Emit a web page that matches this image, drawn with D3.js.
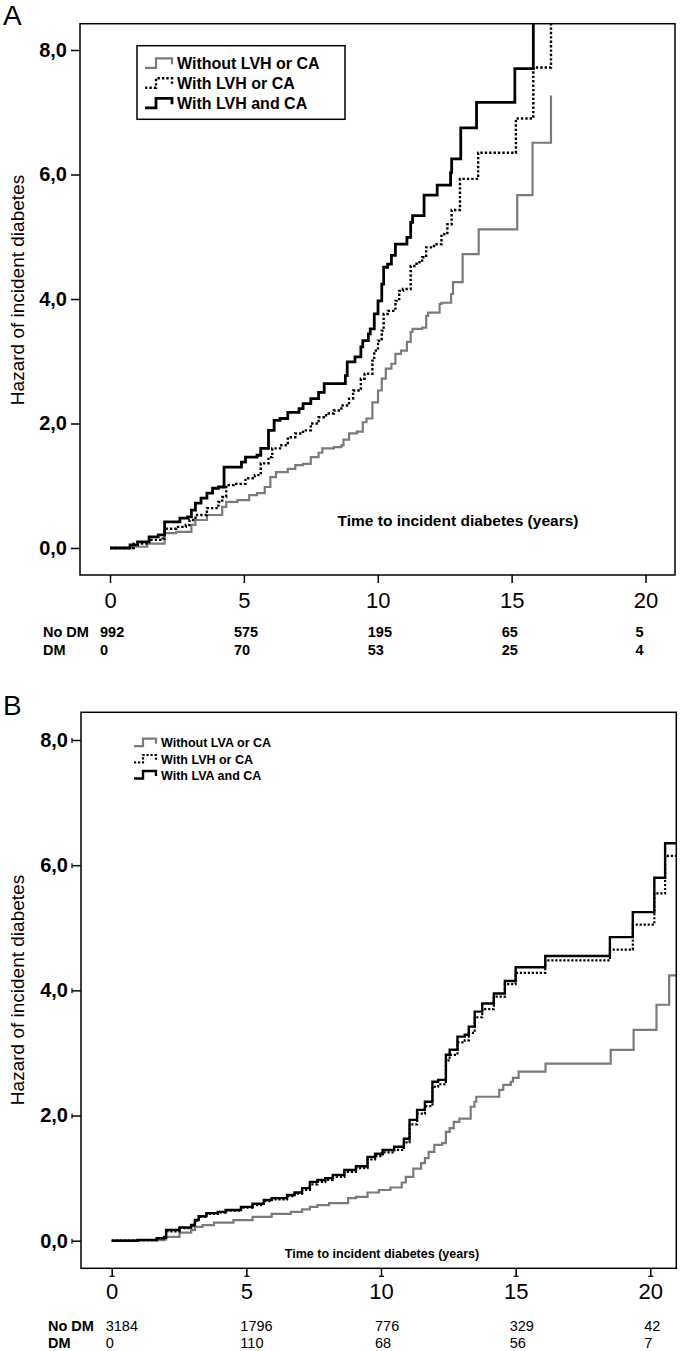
<!DOCTYPE html>
<html><head><meta charset="utf-8">
<script src="https://cdn.jsdelivr.net/npm/d3@7/dist/d3.min.js"></script>
<style>body{margin:0;background:#fff}svg{display:block;font-family:"Liberation Sans",Arial,sans-serif}</style>
</head><body><svg id="c" width="684" height="1351"></svg>
<script>
// ---------- data ----------
const xTicks = [0, 5, 10, 15, 20];
const xTickLabels = ["0", "5", "10", "15", "20"];
const yTicks = [0, 2, 4, 6, 8];
const yTickLabels = ["0,0", "2,0", "4,0", "6,0", "8,0"];
const yTitle = "Hazard of incident diabetes";
const xTitle = "Time to incident diabetes (years)";

const legendA = ["Without LVH or CA", "With LVH or CA", "With LVH and CA"];
const legendB = ["Without LVA or CA", "With LVH or CA", "With LVA and CA"];

const riskTimes = [0, 5, 10, 15, 20];
const riskRowLabels = ["No DM", "DM"];
const noDM_A = [992, 575, 195, 65, 5];
const dm_A = [0, 70, 53, 25, 4];
const noDM_B = [3184, 1796, 776, 329, 42];
const dm_B = [0, 110, 68, 56, 7];

// Panel A curves (time in years, cumulative hazard)
const aNoneT = [0,0.75,1.39,2.04,2.47,3.04,3.19,3.62,4.19,4.34,4.76,5.2,5.49,5.78,5.99,6.2,6.64,6.92,7.21,7.5,7.79,7.93,8.36,8.64,8.72,8.93,9.22,9.44,9.58,9.8,10.01,10.15,10.3,10.51,10.66,10.87,11.09,11.23,11.3,11.66,11.81,11.88,12.31,12.38,12.74,12.81,13.17,13.77,15.21,15.78,16.47];
const aNoneH = [0,0.02,0.07,0.24,0.26,0.37,0.45,0.53,0.66,0.74,0.77,0.85,0.88,0.98,1.14,1.22,1.27,1.33,1.35,1.46,1.53,1.60,1.62,1.65,1.74,1.84,1.87,2.02,2.08,2.34,2.53,2.72,2.88,2.96,3.12,3.17,3.31,3.47,3.52,3.54,3.73,3.78,3.92,3.94,4.08,4.27,4.72,5.12,5.67,6.51,7.27];
const aOrT = [0,0.89,1.46,1.97,2.04,2.47,2.83,2.97,3.19,3.62,4.05,4.19,4.34,4.62,5.06,5.41,5.63,5.92,6.06,6.35,6.64,6.92,7.21,7.5,7.79,8.07,8.36,8.64,8.93,9.08,9.37,9.51,9.80,9.87,10.01,10.15,10.22,10.37,10.66,10.80,10.94,11.23,11.45,11.66,11.81,12.1,12.38,12.6,12.76,13.07,13.75,15.16,15.81,16.47];
const aOrH = [0,0.07,0.13,0.15,0.31,0.34,0.37,0.45,0.53,0.64,0.74,0.82,1.01,1.03,1.12,1.17,1.36,1.46,1.60,1.65,1.78,1.84,1.89,2.00,2.10,2.16,2.21,2.29,2.40,2.53,2.72,2.80,3.01,3.17,3.33,3.49,3.76,3.81,3.97,4.13,4.16,4.53,4.59,4.67,4.83,4.88,5.04,5.20,5.43,5.93,6.35,6.90,7.72,8.6];
const aAndT = [0,0.75,1.03,1.46,1.8,2.04,2.61,2.9,3.04,3.19,3.4,3.62,3.83,4.05,4.26,4.91,5.06,5.49,5.63,5.92,6.13,6.35,6.64,7.06,7.21,7.5,7.79,8.0,8.79,8.86,9.15,9.37,9.44,9.65,9.72,9.87,10.01,10.15,10.22,10.37,10.51,10.66,11.09,11.23,11.3,11.73,12.22,12.72,12.76,13.10,13.69,15.12,15.81];
const aAndH = [0,0.05,0.10,0.18,0.21,0.42,0.48,0.50,0.61,0.72,0.80,0.88,0.96,0.98,1.30,1.38,1.46,1.49,1.60,1.89,2.05,2.08,2.18,2.24,2.32,2.40,2.50,2.64,2.77,2.99,3.07,3.23,3.33,3.44,3.52,3.76,3.97,4.24,4.51,4.56,4.70,4.88,4.99,5.23,5.34,5.67,5.83,6.03,6.25,6.75,7.16,7.70,8.6];

// Panel B curves
const bNoneT = [0,0.96,1.95,2.02,2.52,2.95,3.09,3.37,3.80,4.52,5.23,5.94,6.65,7.07,7.36,7.64,8.07,8.78,9.07,9.50,9.92,10.35,10.77,10.92,11.2,11.49,11.63,11.77,11.98,12.27,12.41,12.55,12.7,12.91,13.33,13.47,13.54,14.39,14.54,14.82,14.9,15.11,16.11,18.53,19.38,20.23,20.7,20.96];
const bNoneH = [0,0.01,0.02,0.06,0.13,0.17,0.22,0.25,0.29,0.33,0.38,0.43,0.46,0.50,0.54,0.57,0.60,0.68,0.70,0.77,0.81,0.85,0.93,1.02,1.15,1.24,1.32,1.42,1.53,1.56,1.74,1.80,1.90,1.95,2.14,2.22,2.30,2.41,2.49,2.54,2.60,2.70,2.83,3.05,3.37,3.77,4.24,4.24];
const bT = [0,0.96,1.67,1.95,2.02,2.52,2.95,3.09,3.23,3.52,3.94,4.23,4.80,5.23,5.65,5.94,6.51,6.79,7.07,7.36,7.64,7.93,8.21,8.64,9.07,9.50,9.78,10.06,10.49,10.85,11.06,11.34,11.63,11.91,12.12,12.41,12.55,12.84,13.11,13.26,13.48,13.76,14.19,14.6,15.0,16.1,18.5,19.35,20.15,20.55,20.96];
const bOrH = [0,0.01,0.04,0.05,0.15,0.20,0.24,0.32,0.38,0.43,0.45,0.48,0.53,0.57,0.63,0.66,0.71,0.75,0.81,0.90,0.94,0.97,1.02,1.10,1.16,1.30,1.35,1.41,1.45,1.57,1.86,2.03,2.15,2.46,2.50,2.88,2.97,3.17,3.20,3.32,3.57,3.70,3.90,4.10,4.28,4.48,4.65,5.05,5.55,6.15,6.15];
const bAndH = [0,0.01,0.04,0.06,0.17,0.21,0.25,0.33,0.39,0.44,0.46,0.49,0.54,0.59,0.65,0.68,0.73,0.77,0.84,0.94,0.97,1.00,1.05,1.13,1.19,1.34,1.39,1.45,1.50,1.63,1.93,2.09,2.22,2.54,2.57,2.97,3.05,3.26,3.29,3.42,3.66,3.79,3.95,4.15,4.37,4.55,4.85,5.25,5.80,6.35,6.35];

// ---------- drawing ----------
const svg = d3.select("#c");
const GRAY = "#7b7b7b";

const panels = [
  { id:"A", letterY:25, box:{x0:80,x1:675,y0:23.7,y1:575}, xr:[110,645.5], yr:[548,50],
    series:[{t:aNoneT,h:aNoneH,c:GRAY,w:2.2,d:null},{t:aOrT,h:aOrH,c:"#000",w:2.4,d:"2.4,2"},{t:aAndT,h:aAndH,c:"#000",w:2.8,d:null}],
    legend:legendA, legendBox:true, lx:145, ly:[63.3,83.3,103.3], lfs:16, lsym:[11,27,4.5,5],
    xTitleX:458, xTitleY:526, xTitleFs:15.5, xTitleW:"bold",
    rowY:[637,654.5], rowLabelX:43, riskFs:14.5, riskW:"bold", labW:"bold", riskOff:-10,
    noDM:noDM_A, dm:dm_A, tickLabY:608, caps:false, ylabY:290 },
  { id:"B", letterY:715, box:{x0:81,x1:676.3,y0:712.3,y1:1268.3}, xr:[111.7,650.3], yr:[1240.7,740],
    series:[{t:bNoneT,h:bNoneH,c:GRAY,w:2.2,d:null},{t:bT,h:bOrH,c:"#000",w:2.2,d:"2.2,1.8"},{t:bT,h:bAndH,c:"#000",w:2.4,d:null}],
    legend:legendB, legendBox:false, lx:134, ly:[742.7,759,775], lfs:12.5, lsym:[9,22,3.5,4],
    xTitleX:382, xTitleY:1257.5, xTitleFs:12.5, xTitleW:"bold",
    rowY:[1330.5,1348], rowLabelX:48, riskFs:14.5, riskW:"normal", labW:"bold", riskOff:-6,
    noDM:noDM_B, dm:dm_B, tickLabY:1299.5, caps:true, ylabY:990 }
];

panels.forEach((p, pi) => {
  const g = svg.append("g");
  const x = d3.scaleLinear().domain([0, 20]).range(p.xr);
  const y = d3.scaleLinear().domain([0, 8]).range(p.yr);
  const b = p.box;

  // panel letter
  g.append("text").attr("x", 3).attr("y", p.letterY).attr("font-size", 28).text(p.id);

  // clip
  const cid = "clip" + p.id;
  svg.append("clipPath").attr("id", cid).append("rect")
    .attr("x", b.x0).attr("y", b.y0).attr("width", b.x1 - b.x0).attr("height", b.y1 - b.y0);

  // curves
  const line = d3.line().curve(d3.curveStepAfter).x(d => x(d[0])).y(d => y(d[1]));
  const cg = g.append("g").attr("clip-path", `url(#${cid})`);
  p.series.forEach(s => {
    cg.append("path").datum(d3.zip(s.t, s.h)).attr("d", line)
      .attr("fill", "none").attr("stroke", s.c).attr("stroke-width", s.w)
      .attr("stroke-dasharray", s.d).attr("stroke-linejoin", "miter");
  });

  // box
  g.append("rect").attr("x", b.x0).attr("y", b.y0).attr("width", b.x1 - b.x0).attr("height", b.y1 - b.y0)
    .attr("fill", "none").attr("stroke", "#000").attr("stroke-width", 1.5);

  // y axis
  const ya = d3.axisLeft(y).tickValues(yTicks).tickSize(9).tickPadding(4)
    .tickFormat((d, i) => yTickLabels[i]);
  const yg = g.append("g").attr("transform", `translate(${b.x0},0)`).call(ya);
  yg.select(".domain").remove();
  yg.selectAll(".tick line").attr("stroke", "#000").attr("stroke-width", 1.5);
  yg.selectAll(".tick text").attr("font-size", 20).attr("font-weight", "bold")
    .attr("font-family", '"Liberation Sans",Arial,sans-serif').attr("fill", "#000");
  if (p.caps) yg.selectAll(".tick").append("line").attr("x1", -9).attr("x2", -9).attr("y1", -2.5).attr("y2", 2.5)
    .attr("stroke", "#000").attr("stroke-width", 1.2);

  // x axis
  const xa = d3.axisBottom(x).tickValues(xTicks).tickSize(8).tickFormat((d, i) => xTickLabels[i]);
  const xg = g.append("g").attr("transform", `translate(0,${b.y1})`).call(xa);
  xg.select(".domain").remove();
  xg.selectAll(".tick line").attr("stroke", "#000").attr("stroke-width", 1.5);
  xg.selectAll(".tick text").attr("font-size", 22).attr("dy", null)
    .attr("y", p.tickLabY - b.y1).attr("font-family", '"Liberation Sans",Arial,sans-serif').attr("fill", "#000");
  if (p.caps) xg.selectAll(".tick").append("line").attr("y1", 8).attr("y2", 8).attr("x1", -2.5).attr("x2", 2.5)
    .attr("stroke", "#000").attr("stroke-width", 1.2);

  // axis titles
  g.append("text").attr("transform", `translate(24,${p.ylabY}) rotate(-90)`).attr("text-anchor", "middle")
    .attr("font-size", 19).text(yTitle);
  g.append("text").attr("x", p.xTitleX).attr("y", p.xTitleY).attr("text-anchor", "middle")
    .attr("font-size", p.xTitleFs).attr("font-weight", p.xTitleW).text(xTitle);

  // legend
  if (p.legendBox) {
    g.append("rect").attr("x", 137).attr("y", 45.7).attr("width", 208).attr("height", 73.6)
      .attr("fill", "#fff").attr("stroke", "#000").attr("stroke-width", 1.5);
  }
  const [a1, a2, lo, hi] = p.lsym;
  p.legend.forEach((lab, i) => {
    const s = p.series[i], yc = p.ly[i];
    g.append("path").attr("d", `M${p.lx},${yc + lo}H${p.lx + a1}V${yc - hi}H${p.lx + a2}V${yc + 1}`)
      .attr("fill", "none").attr("stroke", s.c).attr("stroke-width", s.w).attr("stroke-dasharray", s.d);
    g.append("text").attr("x", p.lx + a2 + 5).attr("y", yc).attr("dy", "0.36em")
      .attr("font-size", p.lfs).attr("font-weight", "bold").text(lab);
  });

  // number at risk
  [p.noDM, p.dm].forEach((row, ri) => {
    g.append("text").attr("x", p.rowLabelX).attr("y", p.rowY[ri]).attr("font-size", p.riskFs)
      .attr("font-weight", p.labW).text(riskRowLabels[ri]);
    row.forEach((v, k) => {
      g.append("text").attr("x", x(riskTimes[k]) + p.riskOff).attr("y", p.rowY[ri])
        .attr("font-size", p.riskFs).attr("font-weight", p.riskW).text(v);
    });
  });
});
</script></body></html>
